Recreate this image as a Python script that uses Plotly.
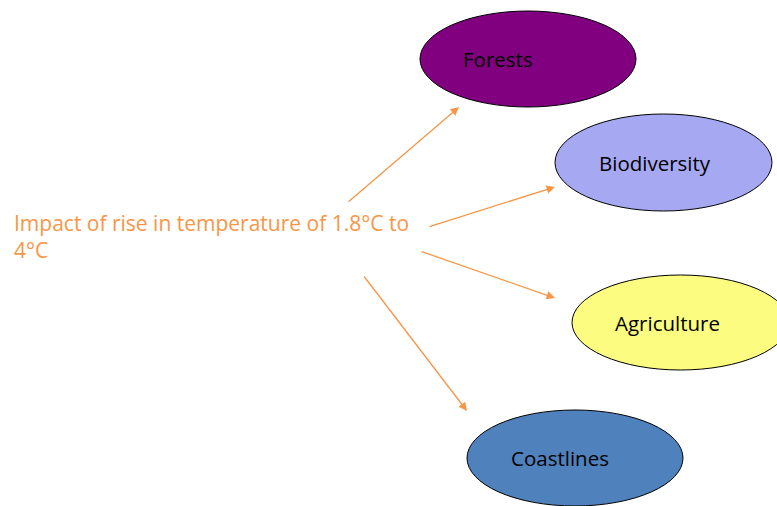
import plotly.graph_objects as go

# Diagram content
source_lines = ["Impact of rise in temperature of 1.8°C to", "4°C"]
node_labels = ["Forests", "Biodiversity", "Agriculture", "Coastlines"]

# Layout (pixel coordinates, y down)
node_boxes = [  # x0, x1, y0, y1
    (420, 636, 11, 107),
    (555, 772, 114, 211),
    (572, 789, 275, 370),
    (467, 683, 410, 506),
]
node_text_x = [461, 597, 613, 509]
node_colors = ["#800080", "#A6A8F2", "#FCFC80", "#4F81BD"]
arrows = [  # tail x, tail y, head x, head y
    (347, 203, 459, 107),
    (428, 227, 555, 187),
    (420, 251, 555, 298),
    (363, 275, 467, 411),
]
source_line_y = [223, 250]
ORANGE = "#F79646"
FONT = "Open Sans"

fig = go.Figure()
fig.add_trace(go.Scatter(x=[0, 777], y=[0, 506], mode="markers",
                         marker=dict(opacity=0), hoverinfo="skip", showlegend=False))

for (x0, x1, y0, y1), col in zip(node_boxes, node_colors):
    fig.add_shape(type="circle", x0=x0, x1=x1, y0=y0, y1=y1, xref="x", yref="y",
                  fillcolor=col, line=dict(color="black", width=1), layer="below")

for label, tx, (x0, x1, y0, y1) in zip(node_labels, node_text_x, node_boxes):
    fig.add_annotation(x=tx, y=(y0 + y1) / 2, text=label, showarrow=False,
                       xanchor="left", yanchor="middle",
                       font=dict(family=FONT, size=20.5, color="black"))

for (tx, ty, hx, hy) in arrows:
    fig.add_annotation(x=hx, y=hy, ax=tx, ay=ty, xref="x", yref="y", axref="x", ayref="y",
                       text="", showarrow=True, arrowhead=2, arrowsize=1.3,
                       arrowwidth=1.3, arrowcolor=ORANGE, standoff=0)

for line, ly in zip(source_lines, source_line_y):
    fig.add_annotation(x=12, y=ly, text=line, showarrow=False,
                       xanchor="left", yanchor="middle", align="left",
                       font=dict(family=FONT, size=21, color=ORANGE))

fig.update_layout(width=777, height=506, autosize=False,
                  margin=dict(l=0, r=0, t=0, b=0),
                  paper_bgcolor="white", plot_bgcolor="white",
                  xaxis=dict(range=[0, 777], visible=False, fixedrange=True),
                  yaxis=dict(range=[506, 0], visible=False, fixedrange=True))

fig.write_html("out.html", config={"displayModeBar": False},
               post_script="document.body.style.margin='0';")
